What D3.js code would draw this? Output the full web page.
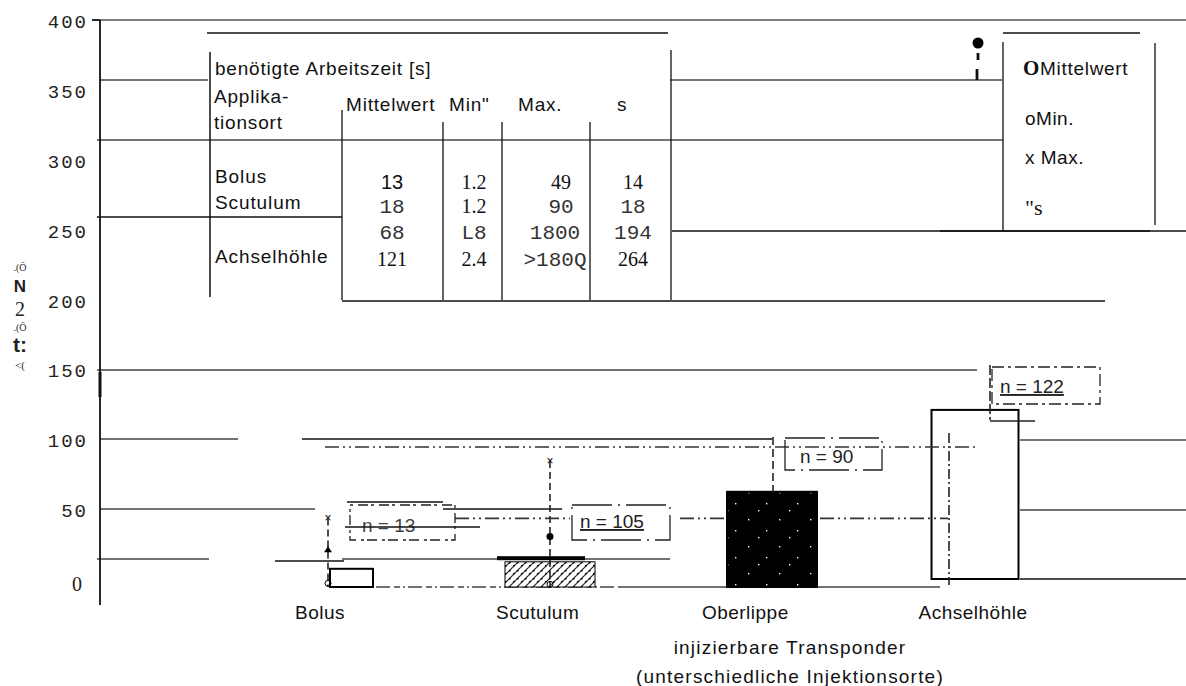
<!DOCTYPE html>
<html><head><meta charset="utf-8">
<script src="https://cdn.jsdelivr.net/npm/d3@7"></script>
<style>
html,body{margin:0;padding:0;background:#fff;}
svg{display:block;}
.sans{font-family:"Liberation Sans",Arial,sans-serif;}
.mono{font-family:"Liberation Mono","Courier New",monospace;}
.serif{font-family:"Liberation Serif","Times New Roman",serif;}
</style></head>
<body>
<svg id="c" width="1186" height="686"></svg>
<script>
// ---- data ----
const categories = ["Bolus","Scutulum","Oberlippe","Achselhöhle"];
const meanValues = [13, 18, 68, 121];
const minValues  = [1.2, 1.2, 1.8, 2.4];
const maxValues  = [49, 90, 1800, 1800];
const sdValues   = [14, 18, 194, 264];
const nValues    = [13, 105, 90, 122];
const yTicks = [0, 50, 100, 150, 200, 250, 300, 350, 400];
const tableRows = ["Bolus","Scutulum","","Achselhöhle"];
const tableMean = ["13","18","68","121"];
const tableMin  = ["1.2","1.2","L8","2.4"];
const tableMax  = ["49","90","1800",">180Q"];
const tableS    = ["14","18","194","264"];
const legendLabels = ["OMittelwert","oMin.","x Max.","\"s"];
const xTitle = ["injizierbare Transponder","(unterschiedliche Injektionsorte)"];

const svg = d3.select("#c");
const y = d3.scaleLinear().domain([0,400]).range([579,20]);
const yb = d3.scaleLinear().domain([0,400]).range([587,27]); // scan baseline of left bars
const xBar = d3.scalePoint().domain(categories).range([351,975]);
const xLab = d3.scalePoint().domain(categories).range([320,973]);

const ink = "#111", grey="#444";
function hline(x1,x2,yy,w,c){svg.append("line").attr("x1",x1).attr("x2",x2).attr("y1",yy).attr("y2",yy).attr("stroke",c||grey).attr("stroke-width",w||1.3);}
function vline(xx,y1,y2,w,c,dash){const l=svg.append("line").attr("x1",xx).attr("x2",xx).attr("y1",y1).attr("y2",y2).attr("stroke",c||ink).attr("stroke-width",w||1.3); if(dash)l.attr("stroke-dasharray",dash);}

// ---- patterns ----
const defs = svg.append("defs");
const hatch = defs.append("pattern").attr("id","hatch").attr("width",8).attr("height",8).attr("patternUnits","userSpaceOnUse");
hatch.append("rect").attr("width",8).attr("height",8).attr("fill","#fff");
hatch.append("path").attr("d","M0,8 L8,0 M-2,2 L2,-2 M6,10 L10,6").attr("stroke","#222").attr("stroke-width",1.2);
hatch.append("rect").attr("x",1).attr("y",5).attr("width",1.5).attr("height",1.5).attr("fill","#000");
hatch.append("rect").attr("x",5).attr("y",2).attr("width",1.5).attr("height",1.5).attr("fill","#000");
const speck = defs.append("pattern").attr("id","speck").attr("width",31).attr("height",27).attr("patternUnits","userSpaceOnUse");
speck.append("rect").attr("width",31).attr("height",27).attr("fill","#000");
[[4,6],[22,17],[14,24]].forEach(p=>speck.append("rect").attr("x",p[0]).attr("y",p[1]).attr("width",1.4).attr("height",1.4).attr("fill","#fff"));

// ---- frame / table rules ----
hline(92,1186,20,1.6,"#555");
hline(207,668,33,1.3,ink);
hline(100,208,80,1.3);
hline(670,1002,80,1.3);
hline(97,1003,140,1.3);
hline(97,342,217,1.3,ink);
hline(672,1186,231,1.3,ink);
hline(342,1105,301,1.3,ink);
hline(97,977,370,1.3,grey);
hline(100,238,439,1.3); hline(302,772,439,1.3,ink); hline(1020,1186,440,1.3);
hline(100,315,509,1.3); hline(443,562,509,1.3,ink); hline(347,443,502,1.3,ink); hline(1020,1186,510,1.3);
hline(97,209,559,1.3); hline(275,344,561,1.3,ink); hline(342,670,559,1.3,grey);
hline(620,940,587,1.6,grey); hline(1020,1186,579,1.6,ink);
svg.append("line").attr("x1",330).attr("x2",620).attr("y1",587).attr("y2",587).attr("stroke",grey).attr("stroke-width",1.5).attr("stroke-dasharray","6,3,2,3,14,4");

// y axis
vline(100,20,605,1.8,ink);
vline(100,372,397,3,ink);
const yAxis = d3.axisLeft(y).tickValues(yTicks).tickSize(0).tickPadding(12);
const ga = svg.append("g").attr("transform","translate(100,0)").call(yAxis);
ga.select(".domain").remove();
ga.selectAll("text").attr("class",d=>d===0?"serif":"mono").attr("font-size",d=>d===0?20:19)
  .attr("fill","#222").attr("letter-spacing",d=>d===0?0:2).attr("font-family",null)
  .attr("dy",d=>d===0?"0.55em":"0.4em").attr("dx",d=>d===0?-6:0);
hline(92,100,20,1.6,ink);

// y label glyphs (scan garble)
const yl = [[".(Ö",271,10,"serif",false],["N",292,17,"sans",true],["2",316,20,"serif",false],[".(Ö",331,10,"serif",false],["t:",352,21,"sans",true],["<(",369,11,"serif",false]];
yl.forEach(g=>svg.append("text").attr("x",20).attr("y",g[1]).attr("text-anchor","middle").attr("class",g[3]).attr("font-size",g[2]).attr("font-weight",g[4]?"bold":"normal").attr("fill","#222").text(g[0]));

// ---- table ----
vline(210,52,297,1.5); vline(342,110,300,1.3); vline(443,122,300,1.3); vline(502,122,300,1.3); vline(590,122,300,1.3); vline(671,50,300,1.3);
const T = (x,yy,t,cls,fs,anchor,ls)=>svg.append("text").attr("x",x).attr("y",yy).attr("class",cls).attr("font-size",fs).attr("fill",cls==="mono"?"#333":"#111").attr("text-anchor",anchor||"start").attr("letter-spacing",ls||0).text(t);
T(215,75,"benötigte  Arbeitszeit [s]","sans",19,null,0.8);
T(214,103,"Applika-","sans",19,null,0.8);
T(214,129,"tionsort","sans",19,null,0.8);
T(346,111,"Mittelwert","sans",19,null,0.8); T(449,111,"Min\"","sans",19,null,0.8); T(518,111,"Max.","sans",19,null,0.8); T(617,111,"s","sans",19);
const rowY = [189,213,239,266];
const labY = [183,209,0,263];
tableRows.forEach((r,i)=>{ if(r) T(215,labY[i],r,"sans",19,null,0.9); });
const cellCls = (t)=>/^(1\.2|49|14|121|2\.4|264)$/.test(t)?"serif":(t==="13"?"sans":"mono");
const cellFs = (t)=>cellCls(t)==="mono"?21:20;
tableMean.forEach((t,i)=>T(392,rowY[i],t,cellCls(t),cellFs(t),"middle"));
tableMin.forEach((t,i)=>T(474,rowY[i],t,cellCls(t),cellFs(t),"middle"));
tableMax.forEach((t,i)=>T(i>=2?555:561,rowY[i],t,cellCls(t),cellFs(t),"middle"));
tableS.forEach((t,i)=>T(633,rowY[i],t,cellCls(t),cellFs(t),"middle"));

// ---- legend ----
vline(1003,42,232,1.3); vline(1155,43,225,1.3); hline(1003,1140,33,1.3,ink); hline(940,1150,231,1.3,ink);
svg.append("circle").attr("cx",978).attr("cy",43).attr("r",5.5).attr("fill","#000");
vline(978,53,60,2.8); vline(977,69,80,2.8);
const legY=[75,125,164,215];
legendLabels.forEach((t,i)=>{
  if(i===0){ const tx=svg.append("text").attr("x",1023).attr("y",legY[i]).attr("font-size",19).attr("fill","#111").attr("letter-spacing",0.7);
    tx.append("tspan").attr("class","serif").attr("font-size",21).attr("font-weight","bold").text("O"); tx.append("tspan").attr("class","sans").text(t.slice(1)); }
  else if(i===3){ T(1025,legY[i],t,"serif",22); }
  else T(1025,legY[i],t,"sans",19,null,0.5);
});

// ---- bars ----
const barW = [43,90,90,87];
const sc = i=> i===3 ? y : yb;
const barFill = ["#fff","url(#hatch)","url(#speck)","#fff"];
categories.forEach((c,i)=>{
  const s = sc(i), xc = xBar(c) - (i===1?9:i===2?-5:0);
  const x0 = (i===0?330:xc-barW[i]/2);
  svg.append("rect").attr("x",x0).attr("y",s(meanValues[i])).attr("width",barW[i]).attr("height",s(0)-s(meanValues[i]))
    .attr("fill",barFill[i]).attr("stroke","#000").attr("stroke-width",i===1?1:2);
});
// Scutulum thick cap
svg.append("rect").attr("x",497).attr("y",yb(22)).attr("width",88).attr("height",4).attr("fill","#000");

// ---- whiskers / markers ----
function whisk(i,xx,top,dash){
  const s=sc(i);
  vline(xx,Math.max(s(Math.min(maxValues[i],400)),top),s(0),1.6,"#222",dash||"7,4");
}
// Bolus
whisk(0,328,0); svg.append("text").attr("x",328).attr("y",yb(49)+4).attr("text-anchor","middle").attr("class","sans").attr("font-size",12).text("×");
svg.append("path").attr("d",`M324,${yb(meanValues[0]+sdValues[0])+3} L328,${yb(meanValues[0]+sdValues[0])-3} L332,${yb(meanValues[0]+sdValues[0])+3}Z`).attr("fill","#000");
svg.append("circle").attr("cx",328).attr("cy",yb(minValues[0])-2).attr("r",3).attr("fill","none").attr("stroke","#000");
// Scutulum
whisk(1,550,0); svg.append("text").attr("x",550).attr("y",yb(90)+4).attr("text-anchor","middle").attr("class","sans").attr("font-size",12).text("×");
svg.append("circle").attr("cx",550).attr("cy",yb(meanValues[1]+sdValues[1])).attr("r",3.5).attr("fill","#000");
svg.append("circle").attr("cx",550).attr("cy",yb(minValues[1])-1).attr("r",3).attr("fill","none").attr("stroke","#000");
// Oberlippe
vline(773,437,493,1.6,"#222","8,4");
// Achselhöhle
vline(949,433,585,1.6,"#222","10,3,2,3");
vline(990,365,420,1.6,"#222","10,3");
hline(990,1035,421,1.5,"#222");

// dash-dot reference lines
const dd = (x1,x2,v)=>svg.append("line").attr("x1",x1).attr("x2",x2).attr("y1",yb(v)).attr("y2",yb(v)).attr("stroke","#333").attr("stroke-width",1.6).attr("stroke-dasharray","14,4,2,4,2,4");
dd(325,975,100); dd(455,570,49); dd(680,727,49); dd(820,948,49);

// n = labels
const nBox = [[350,505,105,35],[572,505,98,35],[785,438,97,32],[992,367,108,37]];
const nText = [[362,532],[580,528],[800,463],[1000,393]];
nValues.forEach((n,i)=>{
  const b=nBox[i];
  svg.append("rect").attr("x",b[0]).attr("y",b[1]).attr("width",b[2]).attr("height",b[3]).attr("fill","none")
    .attr("stroke","#222").attr("stroke-width",1.3).attr("stroke-dasharray", i===0?"3,5,10,3": i===3?"12,4,3,4":"40,6,2,6");
  svg.append("text").attr("x",nText[i][0]).attr("y",nText[i][1]).attr("class","sans").attr("font-size",19)
    .attr("fill", i===0?"#444":"#222").attr("text-decoration",i===1||i===3?"underline":null).text("n = "+n);
});
hline(345,480,527,1.4,ink);

// ---- x labels ----
categories.forEach((c,i)=>svg.append("text").attr("x",xLab(c)+(i===2?-10:0)).attr("y",619).attr("text-anchor","middle").attr("class","sans").attr("font-size",19).attr("letter-spacing",0.5).attr("fill","#111").text(c));
xTitle.forEach((t,i)=>svg.append("text").attr("x",790).attr("y",[654,683][i]).attr("text-anchor","middle").attr("class","sans").attr("font-size",19).attr("letter-spacing",1.2).attr("fill","#111").text(t));
</script>
</body></html>
